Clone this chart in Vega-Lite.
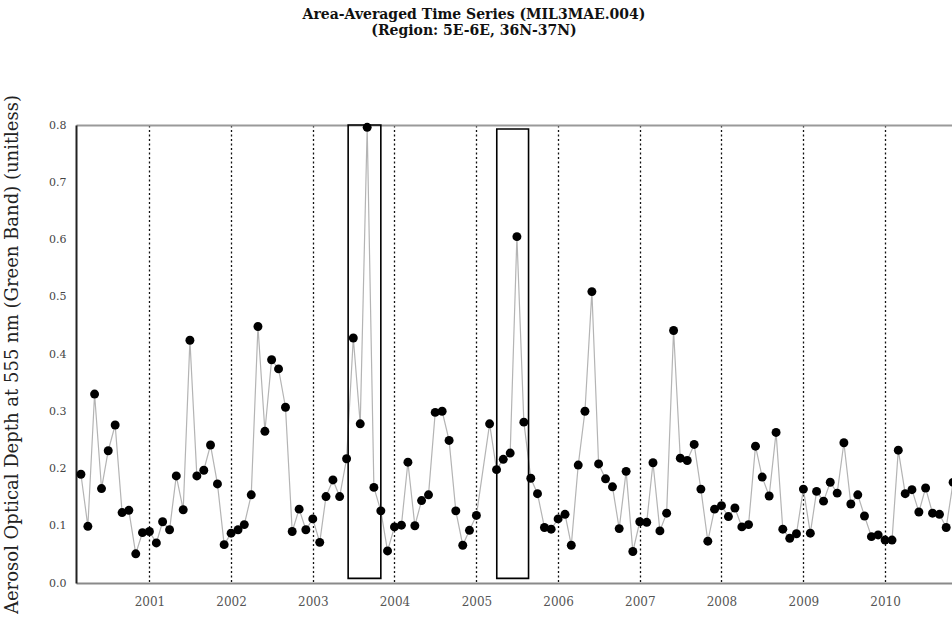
{
  "$schema": "https://vega.github.io/schema/vega-lite/v6.json",
  "width": 876,
  "height": 458,
  "autosize": {"type": "none"},
  "padding": {"left": 76, "top": 125, "right": 0, "bottom": 39},
  "background": "#ffffff",
  "config": {"font": "DejaVu Serif", "view": {"stroke": null}},
  "title": {
    "text": ["Area-Averaged Time Series (MIL3MAE.004)", "(Region: 5E-6E, 36N-37N)"],
    "anchor": "middle",
    "frame": "group",
    "font": "DejaVu Serif",
    "fontSize": 14,
    "fontWeight": "bold",
    "lineHeight": 16,
    "color": "#111111",
    "offset": 56,
    "dx": -40
  },
  "datasets": {
    "series": [
      {"date": "2000-03-01", "aod": 0.190},
      {"date": "2000-04-01", "aod": 0.099},
      {"date": "2000-05-01", "aod": 0.330},
      {"date": "2000-06-01", "aod": 0.165},
      {"date": "2000-07-01", "aod": 0.231},
      {"date": "2000-08-01", "aod": 0.276},
      {"date": "2000-09-01", "aod": 0.123},
      {"date": "2000-10-01", "aod": 0.127},
      {"date": "2000-11-01", "aod": 0.051},
      {"date": "2000-12-01", "aod": 0.088},
      {"date": "2001-01-01", "aod": 0.090},
      {"date": "2001-02-01", "aod": 0.070},
      {"date": "2001-03-01", "aod": 0.107},
      {"date": "2001-04-01", "aod": 0.093},
      {"date": "2001-05-01", "aod": 0.187},
      {"date": "2001-06-01", "aod": 0.128},
      {"date": "2001-07-01", "aod": 0.424},
      {"date": "2001-08-01", "aod": 0.187},
      {"date": "2001-09-01", "aod": 0.197},
      {"date": "2001-10-01", "aod": 0.241},
      {"date": "2001-11-01", "aod": 0.173},
      {"date": "2001-12-01", "aod": 0.067},
      {"date": "2002-01-01", "aod": 0.087},
      {"date": "2002-02-01", "aod": 0.093},
      {"date": "2002-03-01", "aod": 0.102},
      {"date": "2002-04-01", "aod": 0.154},
      {"date": "2002-05-01", "aod": 0.448},
      {"date": "2002-06-01", "aod": 0.265},
      {"date": "2002-07-01", "aod": 0.390},
      {"date": "2002-08-01", "aod": 0.374},
      {"date": "2002-09-01", "aod": 0.307},
      {"date": "2002-10-01", "aod": 0.090},
      {"date": "2002-11-01", "aod": 0.129},
      {"date": "2002-12-01", "aod": 0.093},
      {"date": "2003-01-01", "aod": 0.112},
      {"date": "2003-02-01", "aod": 0.071},
      {"date": "2003-03-01", "aod": 0.151},
      {"date": "2003-04-01", "aod": 0.180},
      {"date": "2003-05-01", "aod": 0.151},
      {"date": "2003-06-01", "aod": 0.217},
      {"date": "2003-07-01", "aod": 0.428},
      {"date": "2003-08-01", "aod": 0.278},
      {"date": "2003-09-01", "aod": 0.796},
      {"date": "2003-10-01", "aod": 0.167},
      {"date": "2003-11-01", "aod": 0.126},
      {"date": "2003-12-01", "aod": 0.056},
      {"date": "2004-01-01", "aod": 0.098},
      {"date": "2004-02-01", "aod": 0.101},
      {"date": "2004-03-01", "aod": 0.211},
      {"date": "2004-04-01", "aod": 0.100},
      {"date": "2004-05-01", "aod": 0.144},
      {"date": "2004-06-01", "aod": 0.154},
      {"date": "2004-07-01", "aod": 0.298},
      {"date": "2004-08-01", "aod": 0.300},
      {"date": "2004-09-01", "aod": 0.249},
      {"date": "2004-10-01", "aod": 0.126},
      {"date": "2004-11-01", "aod": 0.066},
      {"date": "2004-12-01", "aod": 0.092},
      {"date": "2005-01-01", "aod": 0.118},
      {"date": "2005-03-01", "aod": 0.278},
      {"date": "2005-04-01", "aod": 0.198},
      {"date": "2005-05-01", "aod": 0.216},
      {"date": "2005-06-01", "aod": 0.227},
      {"date": "2005-07-01", "aod": 0.605},
      {"date": "2005-08-01", "aod": 0.281},
      {"date": "2005-09-01", "aod": 0.183},
      {"date": "2005-10-01", "aod": 0.156},
      {"date": "2005-11-01", "aod": 0.097},
      {"date": "2005-12-01", "aod": 0.094},
      {"date": "2006-01-01", "aod": 0.112},
      {"date": "2006-02-01", "aod": 0.120},
      {"date": "2006-03-01", "aod": 0.066},
      {"date": "2006-04-01", "aod": 0.206},
      {"date": "2006-05-01", "aod": 0.300},
      {"date": "2006-06-01", "aod": 0.509},
      {"date": "2006-07-01", "aod": 0.208},
      {"date": "2006-08-01", "aod": 0.182},
      {"date": "2006-09-01", "aod": 0.168},
      {"date": "2006-10-01", "aod": 0.095},
      {"date": "2006-11-01", "aod": 0.195},
      {"date": "2006-12-01", "aod": 0.055},
      {"date": "2007-01-01", "aod": 0.107},
      {"date": "2007-02-01", "aod": 0.106},
      {"date": "2007-03-01", "aod": 0.210},
      {"date": "2007-04-01", "aod": 0.091},
      {"date": "2007-05-01", "aod": 0.122},
      {"date": "2007-06-01", "aod": 0.441},
      {"date": "2007-07-01", "aod": 0.218},
      {"date": "2007-08-01", "aod": 0.214},
      {"date": "2007-09-01", "aod": 0.242},
      {"date": "2007-10-01", "aod": 0.164},
      {"date": "2007-11-01", "aod": 0.073},
      {"date": "2007-12-01", "aod": 0.129},
      {"date": "2008-01-01", "aod": 0.135},
      {"date": "2008-02-01", "aod": 0.116},
      {"date": "2008-03-01", "aod": 0.131},
      {"date": "2008-04-01", "aod": 0.098},
      {"date": "2008-05-01", "aod": 0.102},
      {"date": "2008-06-01", "aod": 0.239},
      {"date": "2008-07-01", "aod": 0.185},
      {"date": "2008-08-01", "aod": 0.152},
      {"date": "2008-09-01", "aod": 0.263},
      {"date": "2008-10-01", "aod": 0.094},
      {"date": "2008-11-01", "aod": 0.078},
      {"date": "2008-12-01", "aod": 0.086},
      {"date": "2009-01-01", "aod": 0.164},
      {"date": "2009-02-01", "aod": 0.087},
      {"date": "2009-03-01", "aod": 0.160},
      {"date": "2009-04-01", "aod": 0.143},
      {"date": "2009-05-01", "aod": 0.176},
      {"date": "2009-06-01", "aod": 0.157},
      {"date": "2009-07-01", "aod": 0.245},
      {"date": "2009-08-01", "aod": 0.138},
      {"date": "2009-09-01", "aod": 0.154},
      {"date": "2009-10-01", "aod": 0.117},
      {"date": "2009-11-01", "aod": 0.081},
      {"date": "2009-12-01", "aod": 0.084},
      {"date": "2010-01-01", "aod": 0.075},
      {"date": "2010-02-01", "aod": 0.075},
      {"date": "2010-03-01", "aod": 0.232},
      {"date": "2010-04-01", "aod": 0.156},
      {"date": "2010-05-01", "aod": 0.163},
      {"date": "2010-06-01", "aod": 0.124},
      {"date": "2010-07-01", "aod": 0.166},
      {"date": "2010-08-01", "aod": 0.122},
      {"date": "2010-09-01", "aod": 0.120},
      {"date": "2010-10-01", "aod": 0.097},
      {"date": "2010-11-01", "aod": 0.176}
    ],
    "boxes": [
      {"start": "2003-06-08", "end": "2003-11-01", "top": 0.8, "bottom": 0.008},
      {"start": "2005-04-02", "end": "2005-08-22", "top": 0.793, "bottom": 0.008}
    ]
  },
  "resolve": {"axis": {"x": "independent"}},
  "layer": [
    {
      "data": {"name": "series"},
      "mark": {"type": "line", "stroke": "#b4b4b4", "strokeWidth": 1.2},
      "encoding": {
        "x": {
          "field": "date",
          "type": "temporal",
          "scale": {
            "type": "utc",
            "domain": [
              {"year": 2000, "month": 2, "date": 8, "utc": true},
              {"year": 2010, "month": 10, "date": 27, "utc": true}
            ]
          },
          "axis": {
            "orient": "bottom",
            "title": null,
            "values": [
              {"year": 2001, "utc": true}, {"year": 2002, "utc": true}, {"year": 2003, "utc": true},
              {"year": 2004, "utc": true}, {"year": 2005, "utc": true}, {"year": 2006, "utc": true},
              {"year": 2007, "utc": true}, {"year": 2008, "utc": true}, {"year": 2009, "utc": true},
              {"year": 2010, "utc": true}
            ],
            "format": "%Y",
            "labelFont": "DejaVu Serif",
            "labelFontSize": 12,
            "labelColor": "#555555",
            "labelPadding": 13,
            "ticks": false,
            "domainColor": "#8a8a8a",
            "domainWidth": 2,
            "grid": true,
            "gridColor": "#111111",
            "gridDash": [2, 2.5],
            "gridWidth": 1.3,
            "gridOpacity": 1
          }
        },
        "y": {
          "field": "aod",
          "type": "quantitative",
          "scale": {"domain": [0, 0.8], "nice": false, "zero": true},
          "axis": {
            "orient": "left",
            "title": "Aerosol Optical Depth at 555 nm (Green Band) (unitless)",
            "titleFont": "DejaVu Serif",
            "titleFontSize": 18,
            "titleFontWeight": "normal",
            "titleColor": "#222222",
            "titleX": -64,
            "titleBaseline": "middle",
            "values": [0, 0.1, 0.2, 0.3, 0.4, 0.5, 0.6, 0.7, 0.8],
            "format": ".1f",
            "labelFont": "DejaVu Serif",
            "labelFontSize": 11,
            "labelColor": "#444444",
            "labelPadding": 10,
            "ticks": false,
            "grid": false,
            "domainColor": "#222222",
            "domainWidth": 2
          }
        }
      }
    },
    {
      "data": {"name": "series"},
      "mark": {"type": "point", "filled": true, "color": "#000000", "size": 80, "opacity": 1},
      "encoding": {
        "x": {"field": "date", "type": "temporal", "axis": null},
        "y": {
          "field": "aod",
          "type": "quantitative",
          "axis": {
            "orient": "left",
            "title": "Aerosol Optical Depth at 555 nm (Green Band) (unitless)",
            "titleFont": "DejaVu Serif",
            "titleFontSize": 18,
            "titleFontWeight": "normal",
            "titleColor": "#222222",
            "titleX": -64,
            "titleBaseline": "middle",
            "values": [0, 0.1, 0.2, 0.3, 0.4, 0.5, 0.6, 0.7, 0.8],
            "format": ".1f",
            "labelFont": "DejaVu Serif",
            "labelFontSize": 11,
            "labelColor": "#444444",
            "labelPadding": 10,
            "ticks": false,
            "grid": false,
            "domainColor": "#222222",
            "domainWidth": 2
          }
        }
      }
    },
    {
      "data": {"name": "boxes"},
      "mark": {"type": "rect", "fill": "transparent", "stroke": "#000000", "strokeWidth": 1.6},
      "encoding": {
        "x": {
          "field": "start",
          "type": "temporal",
          "axis": {
            "orient": "top",
            "title": null,
            "labels": false,
            "ticks": false,
            "grid": false,
            "domainColor": "#9a9a9a",
            "domainWidth": 2
          }
        },
        "x2": {"field": "end"},
        "y": {
          "field": "top",
          "type": "quantitative",
          "axis": {
            "orient": "left",
            "title": "Aerosol Optical Depth at 555 nm (Green Band) (unitless)",
            "titleFont": "DejaVu Serif",
            "titleFontSize": 18,
            "titleFontWeight": "normal",
            "titleColor": "#222222",
            "titleX": -64,
            "titleBaseline": "middle",
            "values": [0, 0.1, 0.2, 0.3, 0.4, 0.5, 0.6, 0.7, 0.8],
            "format": ".1f",
            "labelFont": "DejaVu Serif",
            "labelFontSize": 11,
            "labelColor": "#444444",
            "labelPadding": 10,
            "ticks": false,
            "grid": false,
            "domainColor": "#222222",
            "domainWidth": 2
          }
        },
        "y2": {"field": "bottom"}
      }
    }
  ]
}
